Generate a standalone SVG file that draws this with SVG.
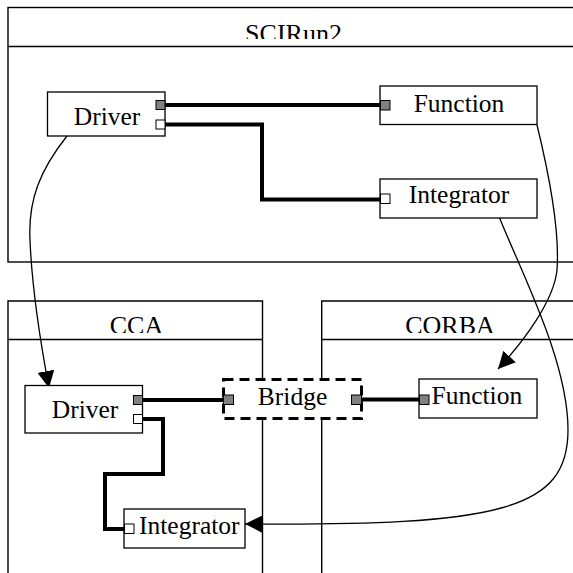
<svg xmlns="http://www.w3.org/2000/svg" width="573" height="573" viewBox="0 0 573 573">
<style>
  .frame { fill: none; stroke: #000; stroke-width: 1.4; }
  .box { fill: #fff; stroke: #000; stroke-width: 1.3; }
  .bridge { fill: #fff; stroke: #000; stroke-width: 3; stroke-dasharray: 10 6; }
  .title { font-family: "Liberation Serif", "Times New Roman", serif; font-size: 26px; text-anchor: middle; fill: #000; }
  .label { font-family: "Liberation Serif", "Times New Roman", serif; font-size: 25.5px; fill: #000; }
  .mid { text-anchor: middle; }
  .pg { fill: #808080; stroke: #000; stroke-width: 1; }
  .pw { fill: #fff; stroke: #000; stroke-width: 1; }
  .wire { fill: none; stroke: #000; stroke-width: 4; stroke-linejoin: miter; }
  .flow { fill: none; stroke: #000; stroke-width: 1.3; }
</style>
<defs>
  <marker id="arrow" markerUnits="userSpaceOnUse" markerWidth="17" markerHeight="17" refX="16" refY="8" orient="auto" viewBox="0 0 16 16">
    <path d="M0,0 L16,8 L0,16 z" fill="#000"/>
  </marker>
  <clipPath id="clipTop"><rect x="0" y="0" width="573" height="39"/></clipPath>
  <clipPath id="clipMid"><rect x="0" y="300" width="573" height="33"/></clipPath>
</defs>
<rect width="573" height="573" fill="#fff"/>

<g id="SCIRun2">
  <rect class="frame" x="8" y="7.5" width="600" height="254.5"/>
  <line class="frame" x1="8" y1="46.5" x2="573" y2="46.5"/>
  <text class="title" x="293.5" y="42" clip-path="url(#clipTop)">SCIRun2</text>
</g>
<g id="CCA">
  <path class="frame" d="M262.5,610 V301 H8 V610"/>
  <line class="frame" x1="8" y1="339.5" x2="262.5" y2="339.5"/>
  <text class="title" x="136.5" y="334" clip-path="url(#clipMid)">CCA</text>
</g>
<g id="CORBA">
  <path class="frame" d="M321.7,610 V301 H600"/>
  <line class="frame" x1="321.7" y1="339.5" x2="573" y2="339.5"/>
  <text class="title" x="450" y="334" clip-path="url(#clipMid)">CORBA</text>
</g>

<g id="connectors">
  <line class="wire" x1="165" y1="105" x2="380" y2="105"/>
  <path class="wire" d="M165,124.5 H262 V199.5 H380"/>
  <line class="wire" x1="142.5" y1="400" x2="223" y2="400"/>
  <line class="wire" x1="362" y1="399.5" x2="419" y2="399.5"/>
  <path class="wire" d="M142.5,419 H163 V474 H105 V529 H124"/>
  <path class="flow" d="M67,136 C40,170 28,200 30,240 C32,290 40,340 49,388" marker-end="url(#arrow)"/>
  <path class="flow" d="M537,125 C548,170 560,230 557,270 C554,300 525,340 498,369" marker-end="url(#arrow)"/>
  <path class="flow" d="M498,214 C520,270 568,360 568,430 C568,510 500,526 245,524" marker-end="url(#arrow)"/>
</g>

<g id="scirun-driver">
  <rect class="box" x="47.5" y="92" width="117.5" height="44"/>
  <text class="label mid" x="107" y="125">Driver</text>
  <rect class="pg" x="156" y="100.5" width="9" height="9"/>
  <rect class="pw" x="156" y="120" width="9" height="9"/>
</g>
<g id="scirun-function">
  <rect class="box" x="380" y="86" width="157" height="38.5"/>
  <text class="label mid" x="459" y="111.5">Function</text>
  <rect class="pg" x="380.5" y="100.5" width="9.5" height="9.5"/>
</g>
<g id="scirun-integrator">
  <rect class="box" x="380" y="179" width="157" height="39"/>
  <text class="label mid" x="459" y="203">Integrator</text>
  <rect class="pw" x="380.5" y="194" width="9.5" height="9.5"/>
</g>

<g id="cca-driver">
  <rect class="box" x="25" y="385.5" width="117.5" height="47.5"/>
  <text class="label mid" x="85" y="418">Driver</text>
  <rect class="pg" x="133.5" y="395.5" width="9" height="9"/>
  <rect class="pw" x="133.5" y="414.5" width="9" height="9"/>
</g>
<g id="bridge">
  <rect class="bridge" x="223.5" y="379.5" width="138" height="39"/>
  <text class="label mid" x="292.5" y="405">Bridge</text>
  <rect class="pg" x="223.5" y="395" width="10" height="9.5"/>
  <rect class="pg" x="351.5" y="395" width="10" height="9.5"/>
</g>
<g id="corba-function">
  <rect class="box" x="419" y="379" width="118" height="39"/>
  <text class="label" x="431.5" y="404">Function</text>
  <rect class="pg" x="419.5" y="395" width="9.5" height="9.5"/>
</g>
<g id="cca-integrator">
  <rect class="box" x="124" y="509" width="121" height="39"/>
  <text class="label" x="139" y="534">Integrator</text>
  <rect class="pw" x="124.5" y="524" width="9.5" height="9.5"/>
</g>
</svg>
